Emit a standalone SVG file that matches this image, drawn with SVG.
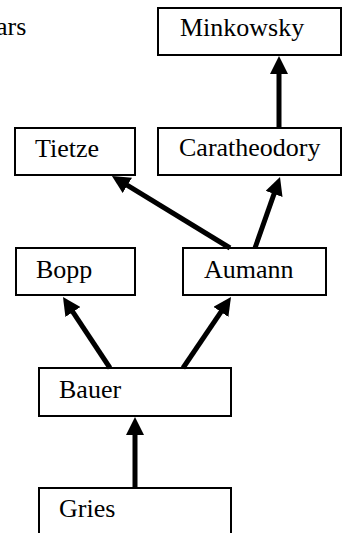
<svg xmlns="http://www.w3.org/2000/svg" width="343" height="533" viewBox="0 0 343 533">
<style>
.box{fill:#fff;stroke:#000;stroke-width:2}
.lbl{font-family:"Liberation Serif","Times New Roman",serif;font-size:26px;fill:#000}
.edge{stroke:#000;stroke-width:5;fill:none;marker-end:url(#ah)}
</style>
<defs>
<marker id="ah" markerUnits="userSpaceOnUse" markerWidth="18" markerHeight="18" refX="8" refY="9" orient="auto">
<path d="M0,0 L18,9 L0,18 z" fill="#000"/>
</marker>
</defs>
<rect width="343" height="533" fill="#fff"/>
<text class="lbl" x="-4" y="35">ars</text>
<g id="Minkowsky"><rect class="box" x="158" y="8" width="183" height="47"/><text class="lbl" x="180" y="36">Minkowsky</text></g>
<g id="Tietze"><rect class="box" x="15" y="128" width="120" height="47"/><text class="lbl" x="35" y="157">Tietze</text></g>
<g id="Caratheodory"><rect class="box" x="158" y="128" width="183" height="47"/><text class="lbl" x="179" y="156">Caratheodory</text></g>
<g id="Bopp"><rect class="box" x="16" y="248" width="119" height="47"/><text class="lbl" x="36" y="278">Bopp</text></g>
<g id="Aumann"><rect class="box" x="183" y="248" width="143" height="47"/><text class="lbl" x="204" y="278">Aumann</text></g>
<g id="Bauer"><rect class="box" x="39" y="368" width="192" height="48"/><text class="lbl" x="59" y="398">Bauer</text></g>
<g id="Gries"><rect class="box" x="39" y="488" width="192" height="60"/><text class="lbl" x="59" y="517">Gries</text></g>
<g id="connectors">
<line class="edge" x1="279" y1="128" x2="279" y2="66"/>
<line class="edge" x1="135" y1="488" x2="135" y2="427"/>
<line class="edge" x1="230" y1="248" x2="120.5" y2="181.2"/>
<line class="edge" x1="255" y1="248" x2="276.7" y2="186.4"/>
<line class="edge" x1="110" y1="368" x2="68.5" y2="305.3"/>
<line class="edge" x1="183" y1="368" x2="225.4" y2="305.3"/>
</g>
</svg>
